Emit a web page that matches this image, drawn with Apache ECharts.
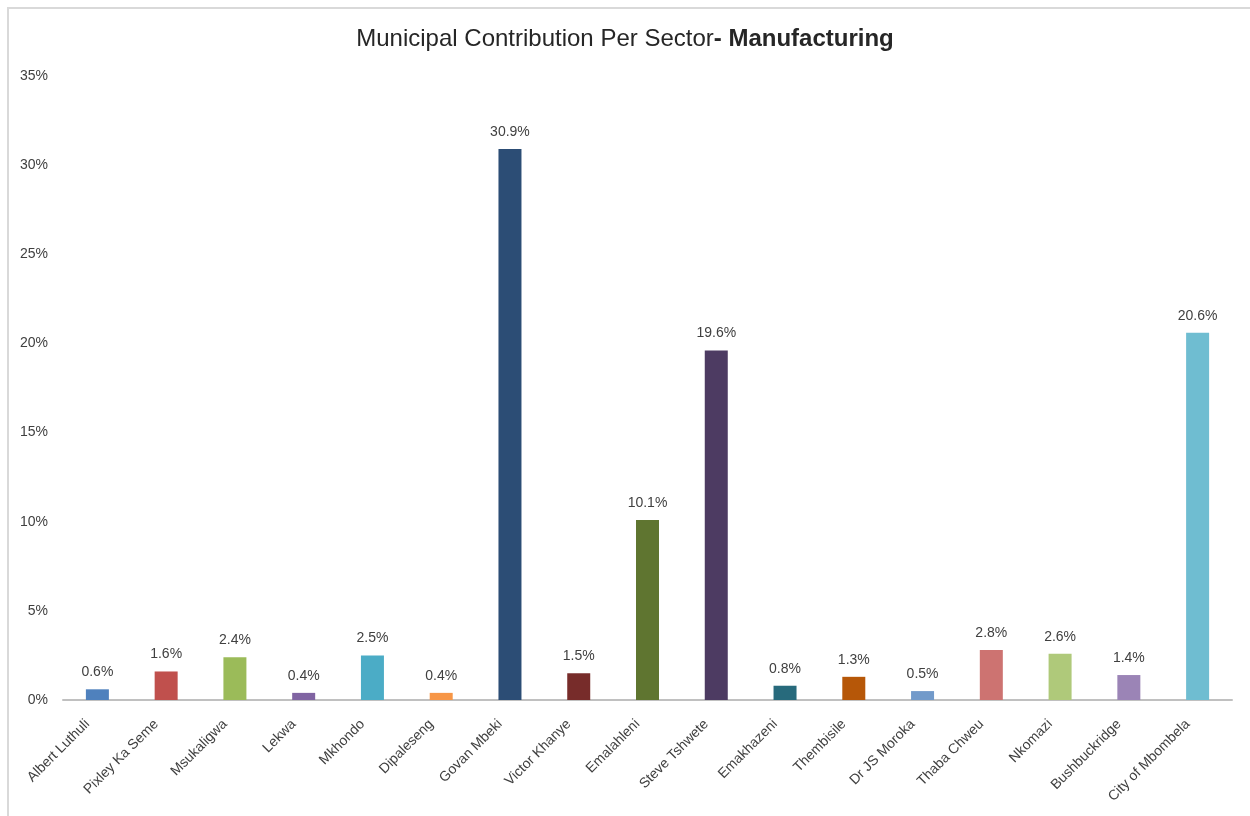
<!DOCTYPE html>
<html>
<head>
<meta charset="utf-8">
<script src="https://cdn.jsdelivr.net/npm/echarts@6/dist/echarts.min.js"></script>
<style>
  html, body { margin: 0; padding: 0; background: #ffffff; }
  #chart { width: 1250px; height: 816px; }
</style>
</head>
<body>
<div id="chart"></div>
<script>
// Share of provincial manufacturing output by municipality (%)
const municipalities = [
  'Albert Luthuli', 'Pixley Ka Seme', 'Msukaligwa', 'Lekwa', 'Mkhondo',
  'Dipaleseng', 'Govan Mbeki', 'Victor Khanye', 'Emalahleni', 'Steve Tshwete',
  'Emakhazeni', 'Thembisile', 'Dr JS Moroka', 'Thaba Chweu', 'Nkomazi',
  'Bushbuckridge', 'City of Mbombela'
];
const shares = [0.6, 1.6, 2.4, 0.4, 2.5, 0.4, 30.9, 1.5, 10.1, 19.6, 0.8, 1.3, 0.5, 2.8, 2.6, 1.4, 20.6];
const barColors = [
  '#4F81BD', '#C0504D', '#9BBB59', '#8064A2', '#4BACC6', '#F79646',
  '#2C4D75', '#772C2A', '#5F7530', '#4D3B62', '#276A7C', '#B65708',
  '#729ACA', '#CD7371', '#AFC97A', '#9B84B6', '#6FBDD1'
];
const yTicks = [0, 5, 10, 15, 20, 25, 30, 35];

const chart = echarts.init(document.getElementById('chart'), null, { renderer: 'canvas' });

chart.setOption({
  animation: false,
  backgroundColor: '#ffffff',
  graphic: [{
    type: 'polyline',
    shape: { points: [[8, 830], [8, 8], [1260, 8]] },
    style: { stroke: '#D9D9D9', lineWidth: 2, fill: null },
    silent: true
  }],
  title: {
    text: '{n|Municipal Contribution Per Sector}{b|- Manufacturing}',
    left: 'center',
    top: 22,
    textStyle: {
      fontWeight: 'normal',
      rich: {
        n: { fontFamily: 'Liberation Sans', fontSize: 24, fontWeight: 'normal', color: '#262626' },
        b: { fontFamily: 'Liberation Sans', fontSize: 24, fontWeight: 'bold', color: '#262626' }
      }
    }
  },
  grid: { left: 63, right: 18, top: 76, bottom: 116, containLabel: false },
  xAxis: {
    type: 'category',
    data: municipalities,
    axisLine: { lineStyle: { color: '#C0C0C0', width: 2 } },
    axisTick: { show: false },
    axisLabel: {
      rotate: 45,
      interval: 0,
      margin: 12,
      padding: [0, 14, 0, 0],
      fontFamily: 'Liberation Sans',
      fontSize: 14,
      color: '#404040'
    }
  },
  yAxis: {
    type: 'value',
    min: yTicks[0],
    max: yTicks[yTicks.length - 1],
    interval: 5,
    splitLine: { show: false },
    axisLine: { show: false },
    axisTick: { show: false },
    axisLabel: {
      margin: 15,
      fontFamily: 'Liberation Sans',
      fontSize: 14,
      color: '#404040',
      formatter: v => v + '%'
    }
  },
  series: [{
    type: 'bar',
    barWidth: 23,
    data: shares.map((v, i) => ({ value: v, itemStyle: { color: barColors[i] } })),
    label: {
      show: true,
      position: 'top',
      distance: 10,
      fontFamily: 'Liberation Sans',
      fontSize: 14,
      color: '#404040',
      formatter: p => p.value.toFixed(1) + '%'
    }
  }]
});
</script>
</body>
</html>
